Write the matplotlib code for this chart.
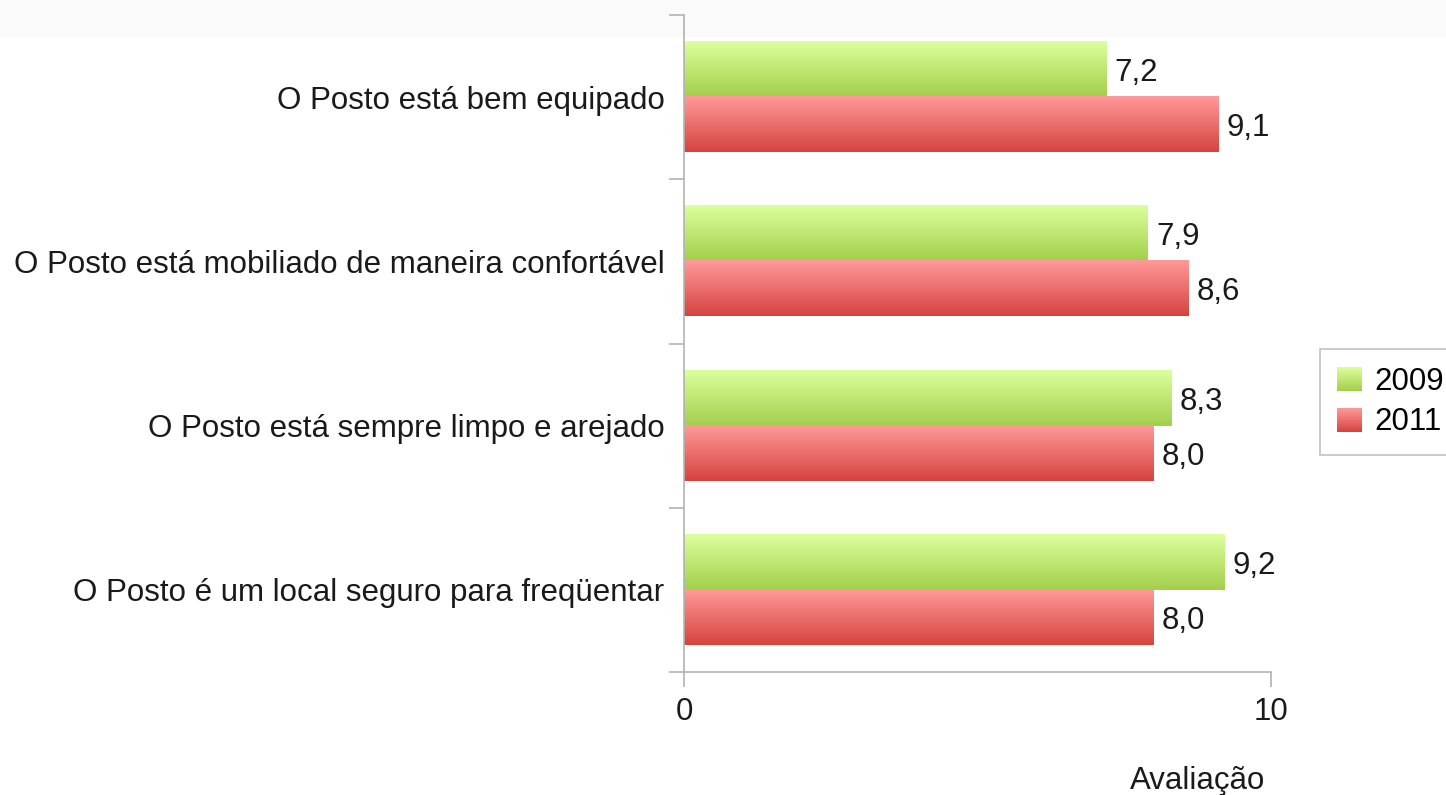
import numpy as np
import matplotlib.pyplot as plt
from matplotlib.colors import to_rgb
from matplotlib.patches import Patch, Rectangle
from matplotlib.legend_handler import HandlerBase
from matplotlib.image import BboxImage
from matplotlib.transforms import Bbox, TransformedBbox

plt.rcParams['font.family'] = 'sans-serif'
plt.rcParams['font.sans-serif'] = ['Liberation Sans', 'Arial', 'DejaVu Sans']

# ------------------- Data: ---------------------------------------------------------
categories = [
    'O Posto está bem equipado',
    'O Posto está mobiliado de maneira confortável',
    'O Posto está sempre limpo e arejado',
    'O Posto é um local seguro para freqüentar',
]
years = ['2009', '2011']
values_2009 = [7.2, 7.9, 8.3, 9.2]
values_2011 = [9.1, 8.6, 8.0, 8.0]

GREEN = ('#dcff9c', '#a3cf4c')
RED = ('#ff9a9a', '#d6433f')
FS = 22.5
TXT = '#1a1a1a'


def gradient_img(top, bottom):
    c1 = np.array(to_rgb(top))
    c2 = np.array(to_rgb(bottom))
    t = np.linspace(0, 1, 64)[:, None]
    return (c1 * (1 - t) + c2 * t)[:, None, :]


class GradientHandler(HandlerBase):
    def create_artists(self, legend, orig_handle, xdescent, ydescent,
                       width, height, fontsize, trans):
        bb = Bbox.from_bounds(-xdescent, -ydescent, width, height)
        im = BboxImage(TransformedBbox(bb, trans), interpolation='bilinear')
        im.set_data(gradient_img(*orig_handle.cols))
        return [im]


# ------------------- Plotting: -----------------------------------------------------
fig = plt.figure(figsize=(14.46, 7.95), dpi=100)
fig.patches.append(Rectangle((0, 0.955), 1, 0.045, transform=fig.transFigure,
                             color='#fafafa', zorder=-10))
ax = fig.add_axes([684 / 1446, 1 - 672 / 795, 587 / 1446, 657 / 795])
ax.set_facecolor('none')

h = 0.335
pos = np.arange(len(categories))
for i in pos:
    for vals, cols, y in ((values_2009, GREEN, i - h / 2), (values_2011, RED, i + h / 2)):
        # y axis is inverted, so the first image row lands on the top of the bar
        ax.imshow(gradient_img(*cols), extent=(0, vals[i], y + h / 2, y - h / 2),
                  aspect='auto', origin='upper', zorder=2)
        ax.text(vals[i] + 0.14, y, f'{vals[i]:.1f}'.replace('.', ','),
                va='center_baseline', ha='left', fontsize=FS, color=TXT)

ax.set_xlim(0, 10)
ax.set_ylim(len(categories) - 0.5, -0.5)

for s in ['top', 'right']:
    ax.spines[s].set_visible(False)
for s in ['left', 'bottom']:
    ax.spines[s].set_color('#b3b3b3')
    ax.spines[s].set_linewidth(1.2)

ax.set_xticks([0, 10])
ax.set_xticklabels(['0', '10'], fontsize=FS, color=TXT)
ax.tick_params(axis='x', length=11, color='#b3b3b3', width=1.2, pad=7)

ax.set_yticks(np.arange(-0.5, len(categories), 1.0))
ax.set_yticklabels([])
ax.set_yticks(pos, minor=True)
ax.set_yticklabels(categories, minor=True, fontsize=FS, color=TXT)
ax.tick_params(axis='y', which='major', length=11, color='#b3b3b3', width=1.2)
ax.tick_params(axis='y', which='minor', length=0, pad=14)

fig.text(1265 / 1446, 1 - 789 / 795, 'Avaliação', ha='right', va='baseline',
         fontsize=FS, color=TXT)

handles = [Patch(label=years[0]), Patch(label=years[1])]
handles[0].cols = GREEN
handles[1].cols = RED
leg = fig.legend(handles=handles, loc='center left', bbox_to_anchor=(1320 / 1446, 1 - 402 / 795),
                 fontsize=FS, frameon=True, fancybox=False, edgecolor='#b3b3b3',
                 handlelength=0.8, handleheight=0.8, handletextpad=0.4,
                 borderpad=0.55, labelspacing=0.35, borderaxespad=0,
                 handler_map={Patch: GradientHandler()})
leg.get_frame().set_linewidth(1.2)

plt.savefig('out.png', dpi=100)
